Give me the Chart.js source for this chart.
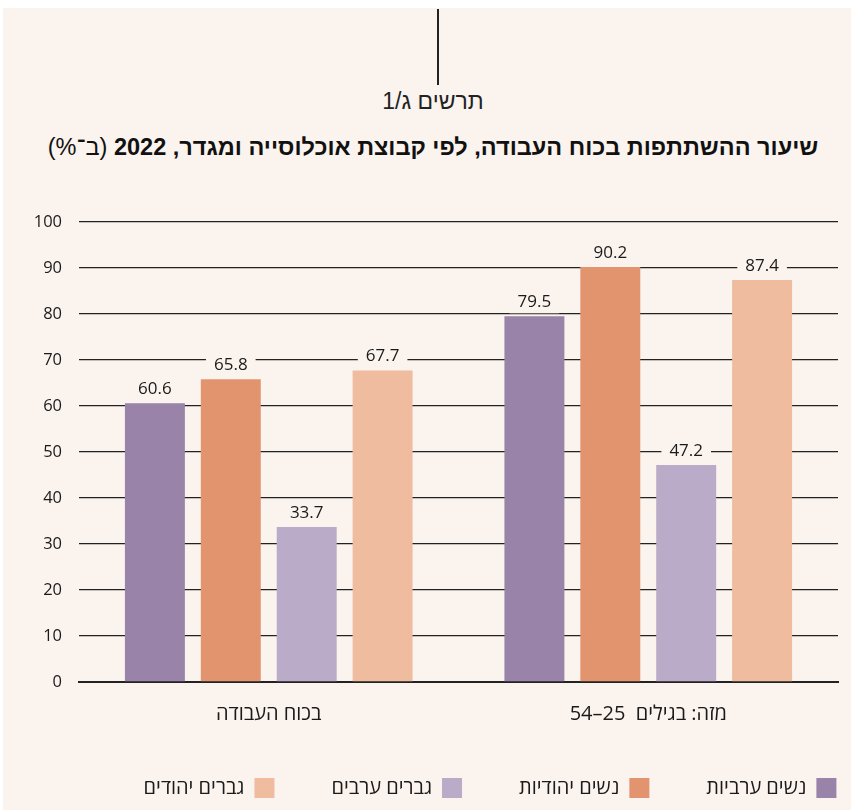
<!DOCTYPE html>
<html>
<head>
<meta charset="utf-8">
<script src="https://cdn.jsdelivr.net/npm/chart.js@4.4.0/dist/chart.umd.min.js"></script>
<style>
  body { margin: 0; background: #fff; }
  #panel { position: absolute; left: 3px; top: 8px; width: 848px; height: 802px; background: #FBF3EE; }
  #stem { position: absolute; left: 437px; top: 9px; width: 2px; height: 76px; background: #222; }
  #fig { position: absolute; left: 0; width: 866px; top: 88px; text-align: center; direction: rtl;
         font-family: 'Liberation Sans', sans-serif; font-size: 23px; color: #222; }
  #title { position: absolute; left: 0; width: 866px; top: 134px; text-align: center; direction: rtl;
           font-family: 'Liberation Sans', sans-serif; font-size: 23.5px; color: #111; }
  #wrap { position: absolute; left: 0; top: 0; width: 851px; height: 810px; }
</style>
</head>
<body>
<div id="panel"></div>
<div id="stem"></div>
<div id="fig">תרשים ג/1</div>
<div id="title"><b>שיעור ההשתתפות בכוח העבודה, לפי קבוצת אוכלוסייה ומגדר, 2022</b> (ב־%)</div>
<div id="wrap"><canvas id="LaborChart" width="851" height="810" dir="rtl"></canvas></div>
<script>
// categories, left to right as in the picture
const groups = ['בכוח העבודה', 'מזה: בגילים  25–54'];

const arabWomen = [60.6, 79.5];
const jewishWomen = [65.8, 90.2];
const arabMen = [33.7, 47.2];
const jewishMen = [67.7, 87.4];

const seriesNames = ['נשים ערביות', 'נשים יהודיות', 'גברים ערבים', 'גברים יהודים'];
const seriesColors = ['#9983A9', '#E2946F', '#BAABC8', '#EFBC9F'];

const bg = '#FBF3EE';
const numFont = "'Open Sans', 'DejaVu Sans', sans-serif";
const hebFont = "'Open Sans', 'DejaVu Sans', sans-serif";

// value labels above the bars, with a patch of background behind them
const valueLabels = {
  id: 'valueLabels',
  afterDatasetsDraw(chart) {
    const c = chart.ctx;
    c.save();
    c.font = '17px ' + numFont;
    c.textAlign = 'center';
    c.textBaseline = 'middle';
    chart.data.datasets.forEach((ds, i) => {
      chart.getDatasetMeta(i).data.forEach((bar, j) => {
        const txt = ds.data[j].toFixed(1);
        const w = c.measureText(txt).width + 16;
        const y = bar.y - 14;
        c.fillStyle = bg;
        c.fillRect(bar.x - w / 2, y - 11, w, 22);
        c.fillStyle = '#1a1a1a';
        c.fillText(txt, bar.x, y);
      });
    });
    c.restore();
  }
};

// legend placement: fixed height, row centred where the picture has it
const legendPlace = {
  id: 'legendPlace',
  beforeLayout(chart) {
    const leg = chart.legend;
    if (!leg || leg._patched) return;
    const fit = leg.fit.bind(leg);
    leg.fit = function () { fit(); this.height = 40; };
    leg._patched = true;
  },
  afterLayout(chart) {
    const leg = chart.legend;
    if (!leg) return;
    const dx = 490 - (leg.left + leg.right) / 2;
    leg.left += dx;
    leg.right += dx;
    leg.top = 778 - leg.options.labels.padding;
    leg.bottom = 810;
  }
};

const ctx = document.getElementById('LaborChart');

new Chart(ctx, {
  type: 'bar',
  data: {
    labels: groups,
    datasets: [
      { label: seriesNames[0], data: arabWomen, backgroundColor: seriesColors[0] },
      { label: seriesNames[1], data: jewishWomen, backgroundColor: seriesColors[1] },
      { label: seriesNames[2], data: arabMen, backgroundColor: seriesColors[2] },
      { label: seriesNames[3], data: jewishMen, backgroundColor: seriesColors[3] }
    ]
  },
  options: {
    responsive: false,
    animation: false,
    devicePixelRatio: 1,
    layout: { padding: { left: 3, right: 13, top: 222, bottom: 0 } },
    datasets: { bar: { categoryPercentage: 0.8, barPercentage: 0.79 } },
    scales: {
      x: {
        z: 1,
        grid: { display: false },
        border: { display: true, color: '#222', width: 2 },
        ticks: { color: '#1a1a1a', padding: 12, font: { family: hebFont, size: 20 } },
        afterFit(scale) { scale.height = 88; }
      },
      y: {
        min: 0,
        max: 100,
        grid: { color: '#222', lineWidth: 1.3, drawTicks: false },
        border: { display: false },
        ticks: { stepSize: 10, color: '#1a1a1a', padding: 17, font: { family: numFont, size: 16.5 } },
        afterFit(scale) { scale.width = 76; }
      }
    },
    plugins: {
      title: { display: false },
      tooltip: { enabled: false },
      legend: {
        position: 'bottom',
        align: 'center',
        rtl: true,
        textDirection: 'rtl',
        labels: {
          boxWidth: 20,
          boxHeight: 20,
          padding: 57,
          color: '#1a1a1a',
          font: { family: hebFont, size: 20 }
        }
      }
    }
  },
  plugins: [valueLabels, legendPlace]
});
</script>
</body>
</html>
